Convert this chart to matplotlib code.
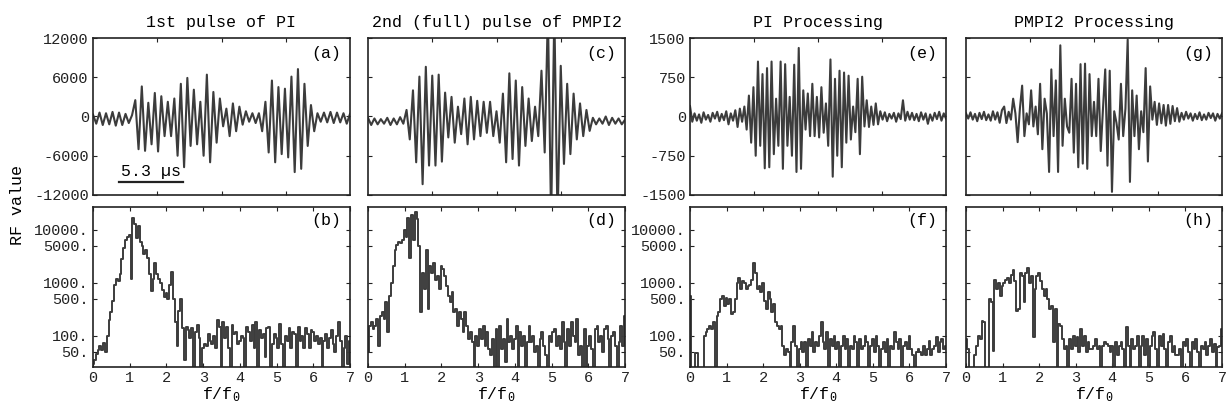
import numpy as np
import matplotlib
matplotlib.use("Agg")
import matplotlib.pyplot as plt

plt.rcParams['font.family'] = ['Liberation Mono', 'DejaVu Sans Mono']
plt.rcParams['mathtext.fontset'] = 'custom'
plt.rcParams['mathtext.rm'] = 'Liberation Mono'
plt.rcParams['mathtext.it'] = 'Liberation Mono'

titles = ["1st pulse of PI", "2nd (full) pulse of PMPI2", "PI Processing", "PMPI2 Processing"]
top_tags = ["(a)", "(c)", "(e)", "(g)"]
bottom_tags = ["(b)", "(d)", "(f)", "(h)"]

# RF traces, read as successive extrema (arbitrary time index)
sig_a = [300, -1100, 600, -1300, 500, -1200, 700, -1400, 600, -1300, 400, -1000, 200,
         2500, -5000, 4600, -5250, 2100, -4250, 3600, -5350, 3100, -3000,
         2250, -3000, 2750, -6000, 5000, -7750, 5900, -4500, 4100, -4250,
         2250, -6000, 6400, -7000, 3750, -4000, 2750, -1500,
         1200, -3000, 2000, -2250, 1500, -1250, 800, -800, 500, -1000, 500,
         -2250, 2250, -5500, 5500, -7000, 4500, -5750, 4250, -6250, 6100, -8500, 7250, -8000,
         5000, -4500, 1750, -2250,
         500, -800, 600, -900, 700, -1000, 600, -900, 500, -1100, 400]

sig_c = [-200, -1300, -300, -1200, -400, -1100, -200, -1300, -300, -1200, -100, -1100,
         1000, -3500, 4000, -7000, 6100, -10350, 7600, -7500, 6250, -7500, 6400, -6900,
         3650, -3200, 3000, -4000, 1500, -2700, 2750, -4250, 3000, -3500, 2400, -3000,
         2250, -2500, 2250, -3000, 800, -4000, 3500, -7000, 6600, -6500, 5500, -7500,
         4500, -4500, 2750, -3750, 1500, -3000, 7000, -5500, 16000, -16000, 16000, -16000,
         7750, -7250, 5000, -5750, 3500, -3500, 2000, -3000, 1000, -2200,
         -200, -1200, -300, -1100, 0, -1300, -200, -1100, -300, -1200, -500]

sig_e = [200, -100, 60, -80, 40, -120, 80, -60, 30, -100, 70, -40, 90, -90, 50, -70,
         100, -150, 60, -80, 120, -200, 150, -100, 190,
         -250, 400, -500, 560, -750, 1050, -560, 810, -990, 925, -970, 1050, -720, 340,
         -560, 1050, -1000, 1000, -560, 375, -750, 990, -1060, 1310, -1000, 500, -250,
         440, -375, 625, -375, 375, -400, 560, -310, 250, -560, 1090, -1150, 720, -750,
         875, -970, 840, -500, 780, -440, 190, -300, 720, -720, 760, -190, 310, -200,
         190, -160, 250, -150,
         100, -60, 80, -90, 50, -40, 70, -100, 60, -50, 310, -80, 90, -60, 70, -70,
         50, -90, 80, -60, 60, -140, 40, -80, 70, -50, 90, -80, 60, -40]

sig_g = [60, -40, 80, -60, 50, -90, 70, -50, 90, -70, 40, -80, 100, -60, 80, -120, 120,
         190, -125, 90, -60, 340, 60, -490, 150, 590, -375, 60, -150, 500, -190, 190,
         -340, 625, -625, 340, 60, -1060, 900, -375, 690, -1060, 1360, -560, 340, -190,
         -310, 720, -690, 625, -970, 1000, -900, 1010, -1000, 810, -375, 280, -375, 720,
         -660, 150, 900, -940, 875, -1440, 100, -120, -440, 625, -375, 150, 1470, -1250,
         500, -375, 400, -625, 100, -300, 925, -860, 575, -60, 280, -160, 250, -130, 220,
         -175, 220, -140, 200, -90, 160, -100,
         70, -60, 90, -40, 60, -80, 50, -50, 80, -70, 40, -60, 70, -30, 60, -80, 50, -40, 60]

# spectra, f/f0 from 0 to 7 in steps of 0.05
spec_b = [30, 35, 45, 55, 65, 55, 75, 50, 100, 200,
          280, 450, 900, 1200, 1100, 1500, 2800, 4500, 6500, 7500,
          8000, 1200, 17000, 13000, 7000, 12000, 6000, 5000, 3500, 4200,
          3000, 1500, 700, 1200, 2400, 1500, 1200, 1000, 750, 550,
          650, 500, 900, 1600, 500, 180, 65, 300, 500, 140,
          35, 150, 130, 90, 140, 20, 120, 160, 90, 20,
          60, 70, 65, 110, 80, 70, 100, 60, 200, 150,
          20, 180, 90, 150, 60, 20, 160, 110, 120, 70,
          80, 100, 90, 20, 150, 120, 80, 160, 60, 180,
          20, 130, 90, 110, 40, 140, 150, 20, 70, 110,
          90, 60, 170, 70, 20, 100, 80, 140, 60, 120,
          110, 20, 150, 80, 100, 60, 140, 110, 60, 130,
          120, 80, 100, 70, 90, 20, 80, 110, 60, 90,
          130, 70, 50, 100, 180, 80, 20, 60, 100, 30,
          80]

spec_d = [50, 156, 180, 135, 156, 210, 66, 240, 280, 210,
          430, 117, 570, 1000, 2050, 4200, 5200, 6000, 5600, 6500,
          10000, 7500, 17000, 3000, 19000, 6500, 22000, 16000, 4900, 280,
          1550, 760, 4200, 320, 2050, 1550, 2400, 1160, 1340, 760,
          2050, 1800, 1340, 870, 570, 430, 660, 280, 320, 156,
          280, 210, 117, 280, 156, 88, 117, 76, 20, 100,
          66, 135, 88, 156, 66, 117, 57, 43, 88, 20,
          135, 20, 156, 57, 88, 32, 210, 76, 100, 57,
          88, 156, 20, 117, 66, 100, 20, 76, 156, 76,
          100, 50, 66, 20, 88, 117, 66, 43, 20, 100,
          76, 117, 135, 66, 100, 57, 180, 76, 20, 135,
          66, 180, 100, 76, 210, 43, 66, 20, 135, 20,
          66, 100, 57, 20, 135, 156, 76, 100, 50, 135,
          156, 88, 20, 100, 117, 66, 20, 76, 156, 66,
          240]

spec_f = [570, 20, 20, 48, 48, 20, 20, 20, 100, 117,
          135, 156, 135, 180, 20, 240, 280, 500, 570, 370,
          530, 400, 500, 260, 280, 500, 1000, 1250, 760, 1080,
          1000, 760, 870, 930, 1160, 2380, 1550, 760, 870, 660,
          1000, 460, 320, 660, 500, 280, 400, 180, 156, 135,
          156, 66, 43, 57, 50, 20, 76, 156, 66, 20,
          57, 76, 50, 76, 20, 88, 66, 117, 50, 76,
          66, 100, 180, 76, 57, 117, 20, 88, 66, 100,
          57, 76, 20, 66, 100, 57, 88, 20, 66, 57,
          100, 76, 20, 88, 57, 66, 100, 76, 20, 66,
          88, 50, 100, 66, 20, 57, 76, 50, 88, 20,
          66, 57, 117, 76, 57, 88, 20, 66, 76, 57,
          100, 57, 43, 20, 50, 57, 50, 43, 66, 43,
          57, 82, 43, 57, 66, 95, 50, 76, 88, 57,
          66]

spec_h = [88, 57, 20, 20, 20, 43, 66, 100, 88, 195,
          180, 20, 20, 500, 430, 53, 1160, 760, 1000, 570,
          870, 1000, 1160, 1250, 1000, 1440, 1790, 1080, 300, 320,
          1550, 1340, 430, 1550, 1920, 1000, 1340, 95, 760, 1340,
          1550, 1080, 760, 570, 760, 500, 320, 370, 76, 320,
          20, 170, 156, 88, 57, 66, 20, 88, 57, 100,
          66, 95, 50, 135, 66, 100, 50, 76, 57, 57,
          66, 88, 57, 66, 20, 66, 76, 71, 66, 50,
          66, 20, 76, 43, 66, 76, 57, 20, 145, 66,
          20, 88, 57, 66, 100, 20, 66, 100, 43, 88,
          20, 66, 100, 117, 57, 20, 100, 66, 110, 57,
          20, 76, 100, 50, 66, 43, 43, 57, 20, 76,
          66, 88, 50, 20, 76, 57, 88, 50, 20, 66,
          57, 76, 43, 66, 88, 50, 71, 20, 61, 66,
          135]

signals = [sig_a, sig_c, sig_e, sig_g]
spectra = [spec_b, spec_d, spec_f, spec_h]
top_ticks = [[-12000, -6000, 0, 6000, 12000], [-12000, -6000, 0, 6000, 12000],
             [-1500, -750, 0, 750, 1500], [-1500, -750, 0, 750, 1500]]
log_ticks = [50, 100, 500, 1000, 5000, 10000]
log_labels = ["50.", "100.", "500.", "1000.", "5000.", "10000."]

line_col = "#3c3c3c"
W, H = 1226, 411
lefts = [93, 368, 690, 966]
widths = [257, 257, 256, 256]

fig = plt.figure(figsize=(W / 100, H / 100), dpi=100)


def style_axes(ax):
    ax.tick_params(direction="in", length=3, width=0.8, top=True, right=True,
                   labelsize=11, pad=3, colors="#222222")
    for sp in ax.spines.values():
        sp.set_linewidth(1.2)
        sp.set_color("#222222")


for i in range(4):
    l = lefts[i] / W
    w = widths[i] / W
    # top row: time traces
    ax = fig.add_axes([l, 1 - 195 / H, w, 157 / H])
    y = signals[i]
    t = np.arange(len(y))
    ax.plot(t, y, color=line_col, lw=1.5)
    lim = top_ticks[i][-1]
    ax.set_ylim(-lim, lim)
    ax.set_xlim(0, len(y) - 1)
    ax.set_yticks(top_ticks[i])
    ax.set_xticks(np.array([0.25, 0.5, 0.75]) * (len(y) - 1))
    ax.set_xticklabels([])
    if i in (0, 2):
        ax.set_yticklabels([str(v) for v in top_ticks[i]])
    else:
        ax.set_yticklabels([])
    style_axes(ax)
    ax.set_title(titles[i], fontsize=12, pad=8)
    ax.text(0.965, 0.95, top_tags[i], transform=ax.transAxes, ha="right", va="top", fontsize=12)
    if i == 0:
        ax.plot([0.10, 0.35], [0.085, 0.085], transform=ax.transAxes, color="#222222", lw=1.6)
        ax.text(0.225, 0.10, "5.3 µs", transform=ax.transAxes, ha="center", va="bottom", fontsize=12)

    # bottom row: spectra
    bx = fig.add_axes([l, 1 - 367 / H, w, 160 / H])
    s = spectra[i]
    f = np.linspace(0, 7, len(s))
    bx.plot(f, s, color=line_col, lw=1.4, drawstyle="steps-mid")
    bx.set_yscale("log")
    bx.set_ylim(26, 27000)
    bx.set_xlim(0, 7)
    bx.set_xticks(range(8))
    bx.set_yticks(log_ticks)
    bx.minorticks_off()
    if i in (0, 2):
        bx.set_yticklabels(log_labels)
    else:
        bx.set_yticklabels([])
    style_axes(bx)
    bx.set_xlabel(r"$\mathrm{f/f}_0$", fontsize=12, labelpad=0)
    bx.text(0.965, 0.96, bottom_tags[i], transform=bx.transAxes, ha="right", va="top", fontsize=12)

fig.text(18 / W, 1 - 205 / H, "RF value", rotation=90, ha="center", va="center", fontsize=12)

fig.savefig("out.png", dpi=100)
